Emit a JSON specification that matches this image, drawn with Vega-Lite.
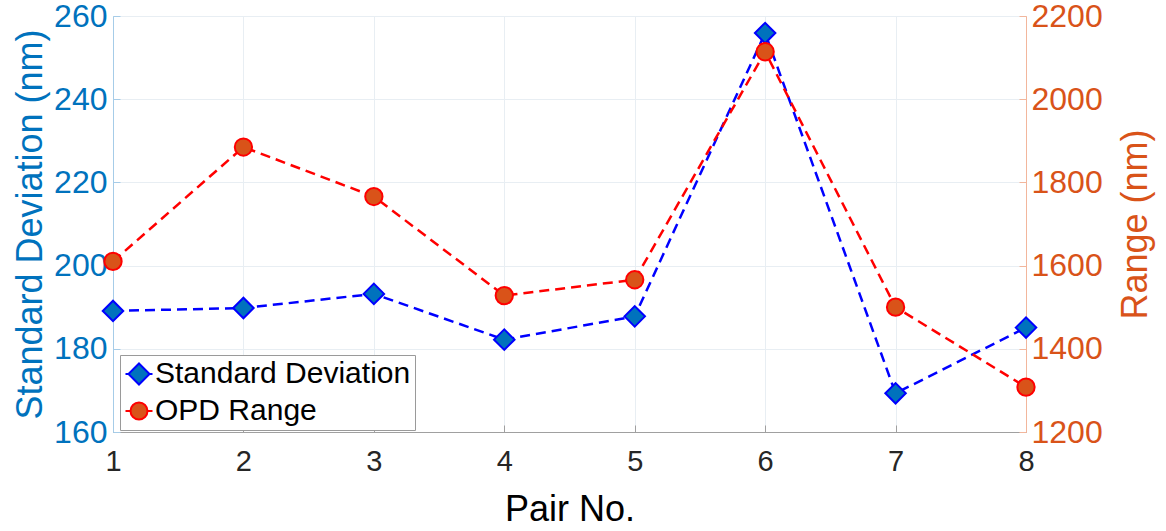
{
  "$schema": "https://vega.github.io/schema/vega-lite/v6.json",
  "width": 913,
  "height": 416,
  "autosize": {"type": "none"},
  "padding": {"left": 113, "top": 16, "right": 140, "bottom": 99},
  "background": "white",
  "config": {
    "font": "Liberation Sans",
    "view": {"stroke": "#a0a0a0", "strokeWidth": 1},
    "axis": {"gridColor": "#e8eef3", "gridWidth": 1, "domainWidth": 1, "titleFontWeight": "normal"},
    "legend": {
      "orient": "none",
      "legendX": 7,
      "legendY": 339,
      "strokeColor": "#9a9a9a",
      "fillColor": "#ffffff",
      "padding": 4,
      "rowPadding": 7,
      "labelOffset": 1,
      "labelFontSize": 30,
      "labelLimit": 400,
      "labelColor": "#000000",
      "labelFont": "Liberation Sans",
      "symbolSize": 729,
      "symbolStrokeWidth": 2,
      "symbolOpacity": 1,
      "title": null
    }
  },
  "data": {
    "values": [
      {"pair": 1, "series": "Standard Deviation", "value": 189.1},
      {"pair": 2, "series": "Standard Deviation", "value": 189.8},
      {"pair": 3, "series": "Standard Deviation", "value": 193.2},
      {"pair": 4, "series": "Standard Deviation", "value": 182.2},
      {"pair": 5, "series": "Standard Deviation", "value": 187.8},
      {"pair": 6, "series": "Standard Deviation", "value": 255.9},
      {"pair": 7, "series": "Standard Deviation", "value": 169.3},
      {"pair": 8, "series": "Standard Deviation", "value": 185.1},
      {"pair": 1, "series": "OPD Range", "value": 1610},
      {"pair": 2, "series": "OPD Range", "value": 1885},
      {"pair": 3, "series": "OPD Range", "value": 1766},
      {"pair": 4, "series": "OPD Range", "value": 1528},
      {"pair": 5, "series": "OPD Range", "value": 1566},
      {"pair": 6, "series": "OPD Range", "value": 2114},
      {"pair": 7, "series": "OPD Range", "value": 1500},
      {"pair": 8, "series": "OPD Range", "value": 1308}
    ]
  },
  "encoding": {
    "x": {
      "field": "pair",
      "type": "quantitative",
      "scale": {"domain": [1, 8], "nice": false, "zero": false},
      "axis": {
        "title": "Pair No.",
        "titleFontSize": 36,
        "titleColor": "#000000",
        "titlePadding": 16,
        "labelFontSize": 29,
        "labelColor": "#262626",
        "labelPadding": 22,
        "labelFlush": false,
        "values": [1, 2, 3, 4, 5, 6, 7, 8],
        "format": "d",
        "grid": true,
        "domainColor": "#a0a0a0",
        "tickColor": "#a0a0a0",
        "tickSize": -7
      }
    }
  },
  "layer": [
    {
      "transform": [{"filter": "datum.series === 'Standard Deviation'"}],
      "encoding": {
        "y": {
          "field": "value",
          "type": "quantitative",
          "scale": {"domain": [160, 260], "nice": false, "zero": false},
          "axis": {
            "orient": "left",
            "title": "Standard Deviation (nm)",
            "titleFontSize": 36,
            "titleColor": "#0072BD",
            "titlePadding": 4,
            "labelFontSize": 32,
            "labelColor": "#0072BD",
            "labelPadding": 13,
            "values": [160, 180, 200, 220, 240, 260],
            "grid": true,
            "domainColor": "#a6cce8",
            "tickColor": "#a6cce8",
            "tickSize": -7
          }
        }
      },
      "layer": [
        {"mark": {"type": "line", "color": "#0000FF", "strokeDash": [10, 6], "strokeWidth": 2.5}},
        {
          "mark": {"type": "point", "shape": "diamond", "filled": true, "size": 420, "strokeWidth": 2, "opacity": 1},
          "encoding": {
            "fill": {"field": "series", "type": "nominal", "scale": {"domain": ["Standard Deviation", "OPD Range"], "range": ["#0072BD", "#D95319"]}},
            "stroke": {"field": "series", "type": "nominal", "scale": {"domain": ["Standard Deviation", "OPD Range"], "range": ["#0000FF", "#FF0000"]}}
          }
        },
        {
          "transform": [{"filter": "false"}],
          "mark": {"type": "point", "filled": true, "strokeWidth": 2, "opacity": 1},
          "encoding": {
            "shape": {"field": "series", "type": "nominal", "scale": {"domain": ["Standard Deviation", "OPD Range"], "range": ["M-1,0H-0.78M0.78,0H1M0,-0.78L0.78,0L0,0.78L-0.78,0Z", "M-1,0H-0.63M0.63,0H1M-0.63,0A0.63,0.63,0,1,1,0.63,0A0.63,0.63,0,1,1,-0.63,0Z"]}},
            "fill": {"field": "series", "type": "nominal", "scale": {"domain": ["Standard Deviation", "OPD Range"], "range": ["#0072BD", "#D95319"]}},
            "stroke": {"field": "series", "type": "nominal", "scale": {"domain": ["Standard Deviation", "OPD Range"], "range": ["#0000FF", "#FF0000"]}}
          }
        }
      ]
    },
    {
      "transform": [{"filter": "datum.series === 'OPD Range'"}],
      "encoding": {
        "y": {
          "field": "value",
          "type": "quantitative",
          "scale": {"domain": [1200, 2200], "nice": false, "zero": false},
          "axis": {
            "orient": "right",
            "title": "Range (nm)",
            "titleFontSize": 36,
            "titleColor": "#D95319",
            "titleAngle": -90,
            "titleBaseline": "top",
            "titlePadding": 16,
            "labelFontSize": 32,
            "labelColor": "#D95319",
            "labelPadding": 12,
            "format": "d",
            "values": [1200, 1400, 1600, 1800, 2000, 2200],
            "grid": false,
            "domainColor": "#f2b69c",
            "tickColor": "#f2b69c",
            "tickSize": -7
          }
        }
      },
      "layer": [
        {"mark": {"type": "line", "color": "#FF0000", "strokeDash": [10, 6], "strokeWidth": 2.5}},
        {
          "mark": {"type": "point", "shape": "circle", "filled": true, "size": 300, "strokeWidth": 2, "opacity": 1},
          "encoding": {
            "fill": {"field": "series", "type": "nominal", "scale": {"domain": ["Standard Deviation", "OPD Range"], "range": ["#0072BD", "#D95319"]}},
            "stroke": {"field": "series", "type": "nominal", "scale": {"domain": ["Standard Deviation", "OPD Range"], "range": ["#0000FF", "#FF0000"]}}
          }
        }
      ]
    }
  ],
  "resolve": {"scale": {"y": "independent"}}
}
